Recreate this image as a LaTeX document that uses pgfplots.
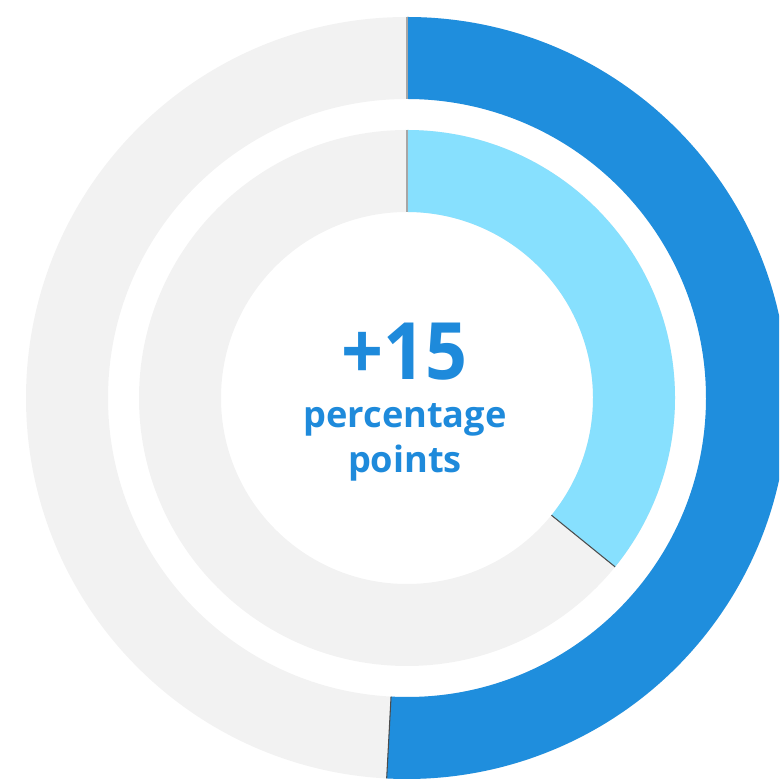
\documentclass[border=0pt]{standalone}
\usepackage{pgfplots}
\pgfplotsset{compat=1.18}
\usepackage{pgfplotstable}
\usepackage{fontspec}
\setmainfont{Open Sans}
\definecolor{dblue}{HTML}{1F8EDD}
\definecolor{lblue}{HTML}{87E0FE}
\definecolor{rgray}{HTML}{F2F2F2}
\definecolor{tblue}{HTML}{1E8ADB}
% share in percent, outer and inner radius in px
\pgfplotstableread{
ring share rout rin
outer 50.85 381 299
inner 35.85 268 186
}\rings
\begin{document}
\begin{tikzpicture}
\pgfplotstablegetelem{0}{share}\of\rings \let\pA\pgfplotsretval
\pgfplotstablegetelem{1}{share}\of\rings \let\pB\pgfplotsretval
\pgfplotstablegetelem{0}{rout}\of\rings \let\RA\pgfplotsretval
\pgfplotstablegetelem{0}{rin}\of\rings \let\rA\pgfplotsretval
\pgfplotstablegetelem{1}{rout}\of\rings \let\RB\pgfplotsretval
\pgfplotstablegetelem{1}{rin}\of\rings \let\rB\pgfplotsretval
\pgfmathsetmacro\eA{90-3.6*\pA}
\pgfmathsetmacro\eB{90-3.6*\pB}
\begin{axis}[name=ax, at={(0,0)}, anchor=south west,
  x=0.01cm, y=0.01cm, xmin=0, xmax=779, ymin=0, ymax=779,
  hide axis, clip=true]
\begin{scope}[shift={(axis cs:407,381)}]
  % gray backgrounds
  \fill[rgray, even odd rule] (0pt,0pt) circle[radius=\RA*0.01cm] (0pt,0pt) circle[radius=\rA*0.01cm];
  \fill[rgray, even odd rule] (0pt,0pt) circle[radius=\RB*0.01cm] (0pt,0pt) circle[radius=\rB*0.01cm];
  % outer segment
  \fill[dblue] (90:\RA*0.01cm) arc[start angle=90, end angle=\eA, radius=\RA*0.01cm]
     -- (\eA:\rA*0.01cm) arc[start angle=\eA, end angle=90, radius=\rA*0.01cm] -- cycle;
  % inner segment
  \fill[lblue] (90:\RB*0.01cm) arc[start angle=90, end angle=\eB, radius=\RB*0.01cm]
     -- (\eB:\rB*0.01cm) arc[start angle=\eB, end angle=90, radius=\rB*0.01cm] -- cycle;
  % separators
  \draw[gray!70, line width=0.5pt] (90:\rA*0.01cm) -- (90:\RA*0.01cm);
  \draw[gray!70, line width=0.5pt] (90:\rB*0.01cm) -- (90:\RB*0.01cm);
  \draw[black!70, line width=0.3pt] (\eA:\rA*0.01cm) -- (\eA:\RA*0.01cm);
  \draw[black!70, line width=0.3pt] (\eB:\rB*0.01cm) -- (\eB:\RB*0.01cm);
\end{scope}
\node[anchor=base, text=tblue, font=\fontsize{22.5}{26}\selectfont\bfseries, xscale=0.93] at (axis cs:404,399) {+15};
\node[anchor=base, text=tblue, font=\fontsize{10.3}{12}\selectfont\bfseries, inner sep=0pt] at (axis cs:405,351) {percentage};
\node[anchor=base, text=tblue, font=\fontsize{10.3}{12}\selectfont\bfseries, inner sep=0pt] at (axis cs:405,306) {points};
\end{axis}
\pgfresetboundingbox
\path (ax.south west) rectangle (ax.north east);
\end{tikzpicture}
\end{document}
